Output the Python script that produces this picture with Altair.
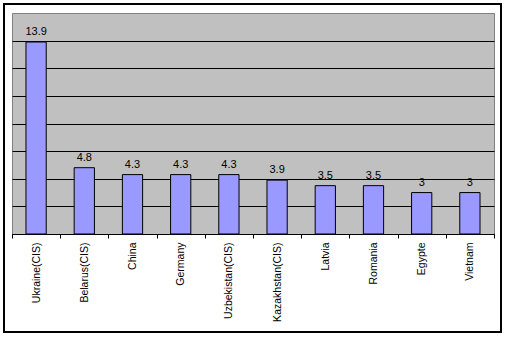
import altair as alt
import pandas as pd

countries = ["Ukraine(CIS)", "Belarus(CIS)", "China", "Germany", "Uzbekistan(CIS)",
             "Kazakhstan(CIS)", "Latvia", "Romania", "Egypte", "Vietnam"]
values = [13.9, 4.8, 4.3, 4.3, 4.3, 3.9, 3.5, 3.5, 3, 3]
value_labels = ["13.9", "4.8", "4.3", "4.3", "4.3", "3.9", "3.5", "3.5", "3", "3"]
y_grid = [0, 2, 4, 6, 8, 10, 12, 14]

df = pd.DataFrame({"country": countries, "value": values, "label": value_labels})

FONT = "Liberation Sans"

x = alt.X("country:N", sort=countries, title=None,
          scale=alt.Scale(paddingInner=0, paddingOuter=0),
          axis=alt.Axis(labelAngle=-90, tickBand="extent", tickSize=4, tickColor="black",
                        domainColor="black", labelFont=FONT, labelFontSize=10.5,
                        labelColor="black", labelPadding=4, grid=False))
y = alt.Y("value:Q", title=None, scale=alt.Scale(domain=[0, 16], nice=False),
          axis=alt.Axis(values=y_grid, labels=False, ticks=False, domain=False,
                        grid=True, gridColor="black", gridWidth=1, gridOpacity=1))

bars = alt.Chart(df).mark_bar(width=alt.RelativeBandSize(0.42), color="#9999FF",
                              stroke="black", strokeWidth=1).encode(x=x, y=y)

text = alt.Chart(df).mark_text(font=FONT, fontSize=11, color="black", dy=-7,
                               baseline="alphabetic").encode(
    x=x, y=y, text="label:N")

border = alt.Chart(pd.DataFrame({"a": [0]})).mark_rect(
    fill=None, stroke="black", strokeWidth=2, clip=False).encode(
    x=alt.value(-8), x2=alt.value(489), y=alt.value(-9), y2=alt.value(319))

chart = alt.layer(bars, text, border).properties(
    width=482, height=221,
    autosize=alt.AutoSizeParams(type="none"),
    padding={"left": 12, "top": 13, "right": 13, "bottom": 103},
    background="white",
).configure_view(fill="#C0C0C0", stroke="#808080", strokeWidth=1)

chart.save("out.html", embed_options={"renderer": "svg", "actions": False})
